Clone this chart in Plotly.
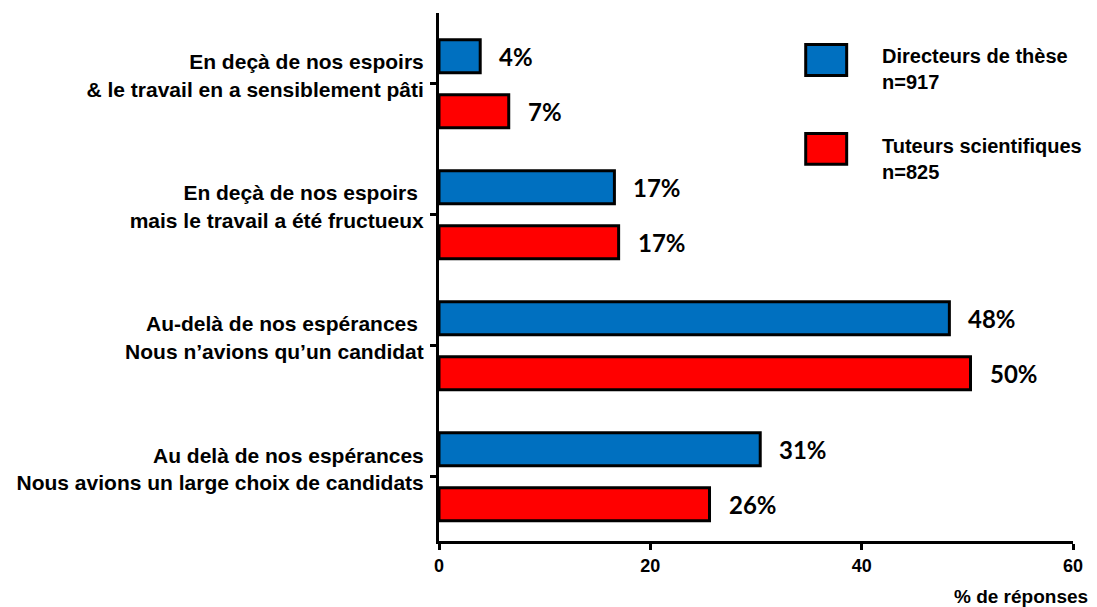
import plotly.graph_objects as go

categories = [
    "En deçà de nos espoirs<br>& le travail en a sensiblement pâti",
    "En deçà de nos espoirs <br>mais le travail a été fructueux",
    "Au-delà de nos espérances <br>Nous n’avions qu’un candidat",
    "Au delà de nos espérances<br>Nous avions un large choix de candidats",
]
series_names = ["Directeurs de thèse<br>n=917", "Tuteurs scientifiques<br>n=825"]
directeurs = [3.9, 16.6, 48.3, 30.4]
tuteurs = [6.6, 17.0, 50.3, 25.6]
directeurs_labels = ["4%", "17%", "48%", "31%"]
tuteurs_labels = ["7%", "17%", "50%", "26%"]
x_ticks = [0, 20, 40, 60]
x_title = "% de réponses"

colors = ["#0070C0", "#FF0000"]

fig = go.Figure()
for name, vals, col in zip(series_names, [directeurs, tuteurs], colors):
    fig.add_trace(go.Bar(
        y=categories, x=vals, orientation="h", name=name,
        marker=dict(color=col, line=dict(color="black", width=3)),
        showlegend=False,
    ))

label_font = dict(family="Lato, Open Sans, sans-serif", size=24, color="black", weight="bold")
for vals, labs, ysh in [(directeurs, directeurs_labels, 27.5), (tuteurs, tuteurs_labels, -27.5)]:
    for cat, v, t in zip(categories, vals, labs):
        fig.add_annotation(x=v, y=cat, text=t, showarrow=False, xanchor="left",
                           yanchor="middle", xshift=17, yshift=ysh, font=label_font)

# page body margin offset (browser default)
OFF = 8
# plot area in screen pixels
plot_l, plot_r, plot_t, plot_b = 438.5, 1073, 13, 541.5
W, H = plot_r - plot_l, plot_b - plot_t
def px(x):
    return (x - plot_l) / W
def py(y):
    return (plot_b - y) / H

legend_boxes = [(43, 77), (132, 166)]
legend_text_y = [69, 159]
for name, col, (y0, y1), ty in zip(series_names, colors, legend_boxes, legend_text_y):
    fig.add_shape(type="rect", xref="paper", yref="paper",
                  x0=px(805.5), x1=px(846.5), y0=py(y1 - 1.5), y1=py(y0 + 1.5),
                  fillcolor=col, line=dict(color="black", width=3))
    fig.add_annotation(xref="paper", yref="paper", x=px(880), y=py(ty), text=name,
                       showarrow=False, xanchor="left", yanchor="middle", align="left",
                       font=dict(family="Liberation Sans, Arial, sans-serif", size=20,
                                 color="black", weight="bold"))

fig.add_annotation(xref="paper", yref="paper", x=px(1090), y=py(597), text=x_title,
                   showarrow=False, xanchor="right", yanchor="middle",
                   font=dict(family="Liberation Sans, Arial, sans-serif", size=19,
                             color="black", weight="bold"))

fig_w, fig_h = 1097 - OFF, 607 - OFF
fig.update_layout(
    width=fig_w, height=fig_h,
    margin=dict(l=plot_l - OFF, r=fig_w - (plot_r - OFF), t=plot_t - OFF,
                b=fig_h - (plot_b - OFF), autoexpand=False),
    paper_bgcolor="white", plot_bgcolor="white",
    barmode="group", bargap=0.16, bargroupgap=0.4,
)
fig.update_xaxes(
    range=[0, 60], tickvals=x_ticks, ticktext=[str(v) for v in x_ticks],
    showline=True, linecolor="black", linewidth=3, showgrid=False, zeroline=False,
    ticks="outside", ticklen=6, tickwidth=3, tickcolor="black",
    tickfont=dict(family="Liberation Sans, Arial", size=18,
                  color="black", weight="bold"),
)
fig.update_yaxes(
    categoryorder="array", categoryarray=categories,
    range=[3.49, -0.54],
    tickvals=categories, ticktext=categories,
    showline=True, linecolor="black", linewidth=3, showgrid=False, zeroline=False,
    ticks="outside", ticklen=6, tickwidth=3, tickcolor="black",
    ticklabelstandoff=2, ticklabelshift=8,
    tickfont=dict(family="Liberation Sans, Arial, sans-serif", size=21,
                  color="black", weight="bold"),
)

fig.write_html("out.html")
